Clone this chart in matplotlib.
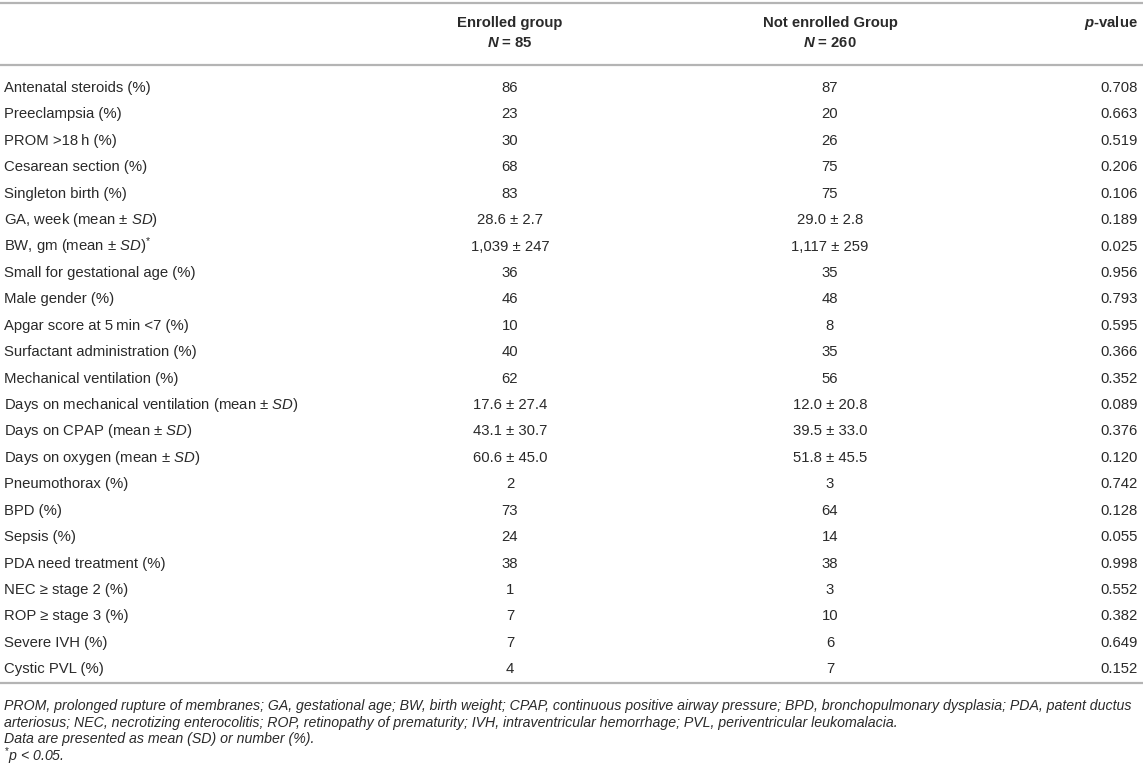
import matplotlib
matplotlib.use('Agg')
import matplotlib.pyplot as plt

plt.rcParams['font.family'] = ['Liberation Sans', 'DejaVu Sans']
plt.rcParams['mathtext.fontset'] = 'custom'
plt.rcParams['mathtext.rm'] = 'Liberation Sans'
plt.rcParams['mathtext.it'] = 'Liberation Sans:italic'
plt.rcParams['mathtext.bf'] = 'Liberation Sans:bold'
plt.rcParams['mathtext.bfit'] = 'Liberation Sans:bold:italic'

col_headers = ['Enrolled group', 'Not enrolled Group', r'$\mathbfit{p}$-value']
col_n = [r'$\mathbfit{N}$ = 85', r'$\mathbfit{N}$ = 260']

labels = ['Antenatal steroids (%)', 'Preeclampsia (%)', 'PROM >18\u2009h (%)',
          'Cesarean section (%)', 'Singleton birth (%)',
          r'GA, week (mean ± $\mathit{SD}$)', r'BW, gm (mean ± $\mathit{SD}$)$^{*}$',
          'Small for gestational age (%)', 'Male gender (%)',
          'Apgar score at 5\u2009min <7 (%)', 'Surfactant administration (%)',
          'Mechanical ventilation (%)',
          r'Days on mechanical ventilation (mean ± $\mathit{SD}$)',
          r'Days on CPAP (mean ± $\mathit{SD}$)', r'Days on oxygen (mean ± $\mathit{SD}$)',
          'Pneumothorax (%)', 'BPD (%)', 'Sepsis (%)', 'PDA need treatment (%)',
          'NEC ≥ stage 2 (%)', 'ROP ≥ stage 3 (%)', 'Severe IVH (%)', 'Cystic PVL (%)']
enrolled = ['86', '23', '30', '68', '83', '28.6 ± 2.7', '1,039 ± 247', '36', '46', '10',
            '40', '62', '17.6 ± 27.4', '43.1 ± 30.7', '60.6 ± 45.0', '2', '73', '24',
            '38', '1', '7', '7', '4']
not_enrolled = ['87', '20', '26', '75', '75', '29.0 ± 2.8', '1,117 ± 259', '35', '48', '8',
                '35', '56', '12.0 ± 20.8', '39.5 ± 33.0', '51.8 ± 45.5', '3', '64', '14',
                '38', '3', '10', '6', '7']
pvals = ['0.708', '0.663', '0.519', '0.206', '0.106', '0.189', '0.025', '0.956', '0.793',
         '0.595', '0.366', '0.352', '0.089', '0.376', '0.120', '0.742', '0.128', '0.055',
         '0.998', '0.552', '0.382', '0.649', '0.152']

footnotes = ['PROM, prolonged rupture of membranes; GA, gestational age; BW, birth weight; '
             'CPAP, continuous positive airway pressure; BPD, bronchopulmonary dysplasia; PDA, patent ductus',
             'arteriosus; NEC, necrotizing enterocolitis; ROP, retinopathy of prematurity; '
             'IVH, intraventricular hemorrhage; PVL, periventricular leukomalacia.',
             'Data are presented as mean (SD) or number (%).',
             r'$^{*}$$\mathit{p}$ < 0.05.']

W, H = 1143, 778
fig = plt.figure(figsize=(W / 100, H / 100), dpi=100)
ax = fig.add_axes([0, 0, 1, 1])
ax.set_xlim(0, W)
ax.set_ylim(H, 0)
ax.axis('off')

fs = 10.7
txt = '#2a2a2a'
line_c = '#b4b4b4'
col_x = [510, 830, 1138]

# rules
for y in [3, 65, 683]:
    ax.plot([0, W], [y, y], color=line_c, lw=1.6, solid_capstyle='butt')

# header
ax.text(col_x[0], 23, col_headers[0], ha='center', va='center', fontsize=fs, fontweight='bold', color=txt)
ax.text(col_x[1], 23, col_headers[1], ha='center', va='center', fontsize=fs, fontweight='bold', color=txt)
ax.text(col_x[2], 23, col_headers[2], ha='right', va='center', fontsize=fs, fontweight='bold', color=txt)
ax.text(col_x[0], 43, col_n[0], ha='center', va='center', fontsize=fs, fontweight='bold', color=txt)
ax.text(col_x[1], 43, col_n[1], ha='center', va='center', fontsize=fs, fontweight='bold', color=txt)

# body
y0, dy = 88, 26.42
for i, lab in enumerate(labels):
    y = y0 + i * dy
    ax.text(4, y, lab, ha='left', va='center', fontsize=fs, color=txt)
    ax.text(col_x[0], y, enrolled[i], ha='center', va='center', fontsize=fs, color=txt)
    ax.text(col_x[1], y, not_enrolled[i], ha='center', va='center', fontsize=fs, color=txt)
    ax.text(col_x[2], y, pvals[i], ha='right', va='center', fontsize=fs, color=txt)

# footnotes
for i, f in enumerate(footnotes):
    ax.text(4, 706 + i * 16.7, f, ha='left', va='center', fontsize=10.2, style='italic', color=txt)

fig.savefig('out.png', dpi=100)
